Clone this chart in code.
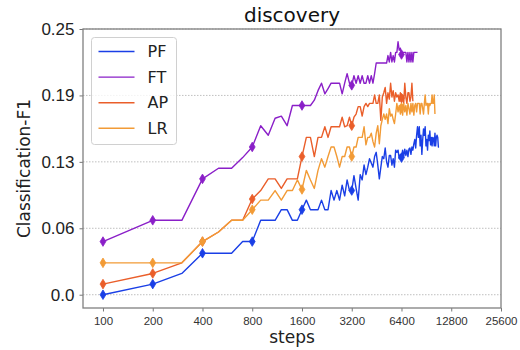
<!DOCTYPE html>
<html>
<head>
<meta charset="utf-8">
<script src="https://cdn.jsdelivr.net/npm/d3@7"></script>
<style>
  body { margin: 0; background: #fff; }
  svg { font-family: "DejaVu Sans", sans-serif; }
</style>
</head>
<body>
<div id="chart"></div>
<script>
// step counts (every 100 steps)
const steps = d3.range(100, 10900, 100);

const seriesNames = ['PF', 'FT', 'AP', 'LR'];
const seriesColors = ['#1a3fe6', '#8a1fc8', '#ea5e2a', '#f29b36'];

const pfValues = [
  0.000, 0.010, 0.020, 0.039, 0.039, 0.039, 0.050, 0.050, 0.070, 0.070,
  0.070, 0.080, 0.080, 0.070, 0.070, 0.080, 0.089, 0.080, 0.080, 0.080,
  0.089, 0.080, 0.080, 0.098, 0.089, 0.098, 0.089, 0.103, 0.093, 0.108,
  0.098, 0.098, 0.112, 0.100, 0.089, 0.113, 0.108, 0.122, 0.113, 0.120,
  0.128, 0.124, 0.120, 0.130, 0.134, 0.122, 0.109, 0.120, 0.130, 0.128,
  0.138, 0.125, 0.120, 0.131, 0.131, 0.122, 0.128, 0.120, 0.136, 0.134,
  0.136, 0.128, 0.132, 0.129, 0.136, 0.130, 0.137, 0.131, 0.136, 0.130,
  0.137, 0.138, 0.132, 0.139, 0.136, 0.142, 0.146, 0.138, 0.150, 0.158,
  0.148, 0.158, 0.140, 0.150, 0.132, 0.146, 0.156, 0.150, 0.158, 0.140,
  0.146, 0.136, 0.150, 0.145, 0.154, 0.141, 0.148, 0.140, 0.148, 0.147,
  0.140, 0.152, 0.140, 0.148, 0.150, 0.148, 0.139, 0.139
];

const ftValues = [
  0.050, 0.070, 0.070, 0.109, 0.119, 0.119, 0.129, 0.139, 0.159, 0.150,
  0.166, 0.168, 0.159, 0.178, 0.178, 0.178, 0.178, 0.178, 0.183, 0.192,
  0.199, 0.189, 0.194, 0.199, 0.199, 0.199, 0.199, 0.189, 0.199, 0.208,
  0.199, 0.197, 0.206, 0.199, 0.206, 0.199, 0.206, 0.199, 0.199, 0.206,
  0.199, 0.206, 0.199, 0.208, 0.218, 0.218, 0.218, 0.218, 0.218, 0.218,
  0.218, 0.218, 0.225, 0.219, 0.228, 0.219, 0.225, 0.219, 0.228, 0.228,
  0.238, 0.230, 0.232, 0.226, 0.228, 0.228, 0.228, 0.228, 0.219, 0.228,
  0.219, 0.228, 0.219, 0.228, 0.219, 0.228, 0.228, 0.228, 0.228, 0.228
];

const apValues = [
  0.010, 0.020, 0.030, 0.050, 0.059, 0.070, 0.070, 0.090, 0.098, 0.109,
  0.109, 0.100, 0.109, 0.109, 0.109, 0.130, 0.148, 0.148, 0.130, 0.148,
  0.148, 0.158, 0.148, 0.158, 0.158, 0.158, 0.158, 0.167, 0.158, 0.159,
  0.167, 0.159, 0.167, 0.170, 0.177, 0.177, 0.168, 0.177, 0.180, 0.177,
  0.180, 0.180, 0.180, 0.188, 0.180, 0.180, 0.188, 0.164, 0.186, 0.190,
  0.195, 0.180, 0.190, 0.184, 0.199, 0.186, 0.192, 0.182, 0.190, 0.186,
  0.188, 0.182, 0.190, 0.185, 0.188, 0.180, 0.199, 0.186, 0.180, 0.190,
  0.190, 0.182, 0.186, 0.199, 0.182
];

const lrValues = [
  0.030, 0.030, 0.030, 0.050, 0.059, 0.070, 0.070, 0.080, 0.089, 0.089,
  0.098, 0.089, 0.098, 0.098, 0.108, 0.099, 0.117, 0.108, 0.100, 0.117,
  0.128, 0.120, 0.130, 0.139, 0.139, 0.130, 0.120, 0.130, 0.130, 0.139,
  0.139, 0.130, 0.139, 0.139, 0.148, 0.148, 0.148, 0.158, 0.141, 0.148,
  0.148, 0.152, 0.144, 0.139, 0.152, 0.159, 0.142, 0.159, 0.165, 0.170,
  0.165, 0.170, 0.161, 0.175, 0.168, 0.170, 0.165, 0.161, 0.170, 0.180,
  0.172, 0.178, 0.170, 0.176, 0.169, 0.180, 0.172, 0.178, 0.169, 0.180,
  0.175, 0.170, 0.180, 0.172, 0.180, 0.169, 0.178, 0.180, 0.172, 0.180,
  0.180, 0.180, 0.170, 0.180, 0.180, 0.175, 0.170, 0.180, 0.188, 0.178,
  0.180, 0.180, 0.170, 0.180, 0.178, 0.180, 0.180, 0.188, 0.180, 0.180,
  0.188, 0.170
];

const seriesValues = [pfValues, ftValues, apValues, lrValues];

// markers only at doubling steps
const markerSteps = [100, 200, 400, 800, 1600, 3200, 6400];
const xTicks = [100, 200, 400, 800, 1600, 3200, 6400, 12800, 25600];
const yTicks = [0, 0.0625, 0.125, 0.1875, 0.25];
const yTickLabels = ['0.0', '0.06', '0.13', '0.19', '0.25'];

const width = 520;
const height = 350;
const margin = { top: 29, right: 19, bottom: 42, left: 83 };

const svg = d3
  .select('#chart')
  .append('svg')
  .attr('width', width)
  .attr('height', height);

const x = d3
  .scaleLog()
  .base(2)
  .domain([75.7, 25600])
  .range([margin.left, width - margin.right]);

const y = d3
  .scaleLinear()
  .domain([-0.0125, 0.25])
  .range([height - margin.bottom, margin.top]);

// grid lines
svg
  .append('g')
  .selectAll('line')
  .data(yTicks)
  .enter()
  .append('line')
  .attr('x1', margin.left)
  .attr('x2', width - margin.right)
  .attr('y1', (d) => y(d))
  .attr('y2', (d) => y(d))
  .attr('stroke', '#b0b0b0')
  .attr('stroke-width', 0.8)
  .attr('stroke-dasharray', '1.5,1.5');

// axes
const xAxis = svg
  .append('g')
  .attr('transform', `translate(0,${height - margin.bottom})`)
  .call(
    d3
      .axisBottom(x)
      .tickValues(xTicks)
      .tickFormat((d) => d)
      .tickSize(3.5)
      .tickPadding(3.5)
  );
xAxis.select('.domain').remove();
xAxis.selectAll('line').attr('stroke', '#777');
xAxis.selectAll('text').attr('font-size', 11.5).attr('fill', '#333').attr('dy', '0.9em');

const yAxis = svg
  .append('g')
  .attr('transform', `translate(${margin.left},0)`)
  .call(
    d3
      .axisLeft(y)
      .tickValues(yTicks)
      .tickFormat((d, i) => yTickLabels[i])
      .tickSize(3.5)
      .tickPadding(5)
  );
yAxis.select('.domain').remove();
yAxis.selectAll('line').attr('stroke', '#777');
yAxis.selectAll('text').attr('font-size', 17).attr('fill', '#222');

// frame
svg
  .append('rect')
  .attr('x', margin.left)
  .attr('y', margin.top)
  .attr('width', width - margin.left - margin.right)
  .attr('height', height - margin.top - margin.bottom)
  .attr('fill', 'none')
  .attr('stroke', '#808080')
  .attr('stroke-width', 1.3);

const line = d3
  .line()
  .x((d) => x(d.step))
  .y((d) => y(d.value));

const diamond = 'M0,-4.8L2.9,0L0,4.8L-2.9,0Z';

seriesNames.forEach((name, i) => {
  const pts = seriesValues[i].map((v, j) => ({ step: steps[j], value: v }));

  svg
    .append('path')
    .datum(pts)
    .attr('d', line)
    .attr('fill', 'none')
    .attr('stroke', seriesColors[i])
    .attr('stroke-width', 1.4)
    .attr('stroke-linejoin', 'round');

  svg
    .append('g')
    .selectAll('path')
    .data(pts.filter((p) => markerSteps.includes(p.step)))
    .enter()
    .append('path')
    .attr('d', diamond)
    .attr('transform', (d) => `translate(${x(d.step)},${y(d.value)})`)
    .attr('fill', seriesColors[i])
    .attr('stroke', seriesColors[i])
    .attr('stroke-width', 0.8);
});

// legend
const legend = svg.append('g').attr('transform', 'translate(91.5,37.5)');
legend
  .append('rect')
  .attr('width', 85)
  .attr('height', 107)
  .attr('rx', 3)
  .attr('fill', '#fff')
  .attr('fill-opacity', 0.8)
  .attr('stroke', '#d0d0d0');

seriesNames.forEach((name, i) => {
  const ly = 14 + i * 25.6;
  legend
    .append('line')
    .attr('x1', 7)
    .attr('x2', 43)
    .attr('y1', ly)
    .attr('y2', ly)
    .attr('stroke', seriesColors[i])
    .attr('stroke-width', 1.4);
  legend
    .append('text')
    .attr('x', 56)
    .attr('y', ly)
    .attr('dy', '0.36em')
    .attr('font-size', 16)
    .attr('fill', '#222')
    .text(name);
});

// title and axis labels
svg
  .append('text')
  .attr('x', (margin.left + width - margin.right) / 2)
  .attr('y', 22)
  .attr('text-anchor', 'middle')
  .attr('font-size', 20)
  .attr('fill', '#111')
  .text('discovery');

svg
  .append('text')
  .attr('x', (margin.left + width - margin.right) / 2)
  .attr('y', 343)
  .attr('text-anchor', 'middle')
  .attr('font-size', 17)
  .attr('fill', '#222')
  .text('steps');

svg
  .append('text')
  .attr('transform', `translate(30,${(margin.top + height - margin.bottom) / 2}) rotate(-90)`)
  .attr('text-anchor', 'middle')
  .attr('font-size', 17)
  .attr('fill', '#222')
  .text('Classification-F1');
</script>
</body>
</html>
